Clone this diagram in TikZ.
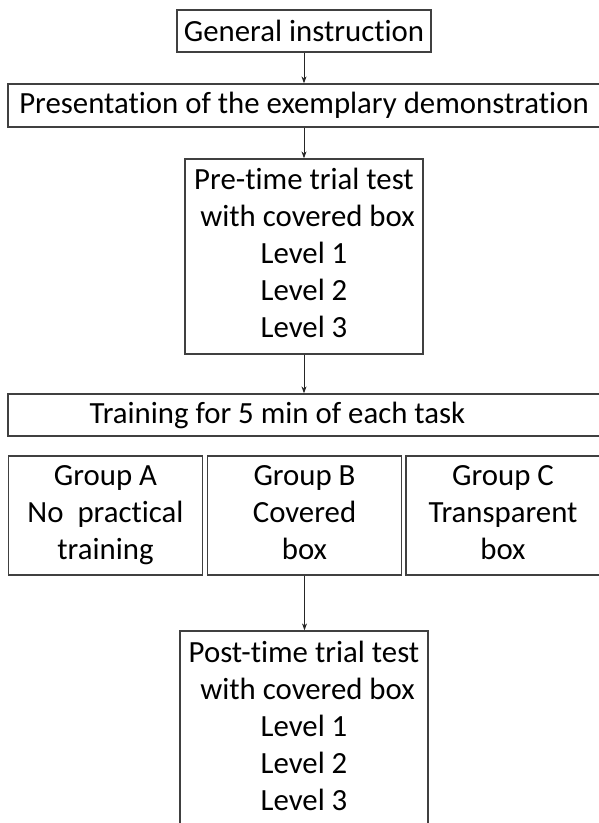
\documentclass[tikz,border=0pt]{standalone}
\usepackage{fontspec}
\setmainfont[Ligatures=NoCommon]{Carlito}
\usetikzlibrary{arrows.meta}

\tikzset{
    flowBox/.style={draw=black!75, line width=1.3pt, inner sep=0pt, align=center,
        font=\fontsize{30.8pt}{37pt}\selectfont},
    flowArrow/.style={draw=black!85, line width=1pt, -{Stealth[length=7pt,width=5pt]}}
}

\begin{document}
\begin{tikzpicture}[x=1pt, y=-1pt]
    \useasboundingbox (0,0) rectangle (598,823);
    \pgfmathsetmacro{\groupWidth}{194}  % width of the three group boxes
    \pgfmathsetmacro{\groupHeight}{119}
    % top of the chart
    \node[flowBox, minimum width=254pt, minimum height=42pt] (gen) at (304,31) {General instruction};
    \node[flowBox, minimum width=592pt, minimum height=43pt] (pres) at (304,105.5) {Presentation of the exemplary demonstration};
    \node[flowBox, minimum width=238pt, minimum height=195pt] (preTest) at (304,256.5)
        {\strut Pre-time trial test\\\hspace*{7pt}with covered box\\Level 1\\Level 2\\Level 3\strut};
    \node[flowBox, minimum width=592pt, minimum height=42pt] (train) at (304,415)
        {Training for 5 min of each task\hspace*{53pt}};
    % the three groups
    \node[flowBox, minimum width=\groupWidth pt, minimum height=\groupHeight pt] (grpA) at (105.5,515.5)
        {\strut Group A\\No\ \ practical\\training\strut};
    \node[flowBox, minimum width=\groupWidth pt, minimum height=\groupHeight pt] (grpB) at (304.5,515.5)
        {\strut Group B\\Covered\\box\strut};
    \node[flowBox, minimum width=\groupWidth pt, minimum height=\groupHeight pt] (grpC) at (503,515.5)
        {\strut Group C\\Transparent\\box\strut};
    % bottom box runs past the lower edge
    \node[flowBox, minimum width=248pt, minimum height=196pt] (postTest) at (304,729)
        {\strut Post-time trial test\\\hspace*{7pt}with covered box\\Level 1\\Level 2\\Level 3\strut};
    % Syntax: \draw[flowArrow] (from) -- (to);
    \draw[flowArrow] (gen) -- (pres);
    \draw[flowArrow] (pres) -- (preTest);
    \draw[flowArrow] (preTest) -- (train);
    \draw[flowArrow] (grpB) -- (grpB |- postTest.north);
\end{tikzpicture}
\end{document}
